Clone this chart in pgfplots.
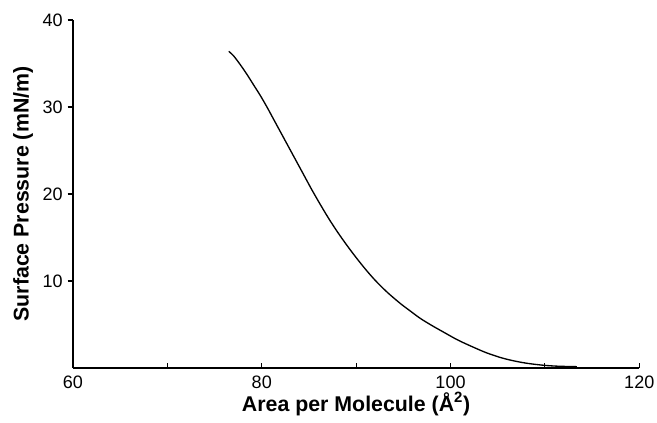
\documentclass[border=0pt]{standalone}
\usepackage{pgfplots}
\pgfplotsset{compat=1.18}
\usepackage{fontspec}
\setmainfont{Liberation Sans}
\begin{document}
\begin{tikzpicture}
\useasboundingbox (-54.75pt,-41.25pt) rectangle (438pt,276pt);
\begin{axis}[
  at={(0,0)}, anchor=south west,
  scale only axis,
  width=424.7pt, height=261pt,
  xmin=60, xmax=120, ymin=0, ymax=40,
  axis x line*=bottom, axis y line*=left,
  axis line style={line width=1pt},
  xtick={60,70,80,90,100,110,120},
  xticklabels={60,,80,,100,,120},
  ytick={10,20,30,40},
  xtick align=inside,
  ytick align=outside,
  major tick length=4pt,
  tick style={line width=0.8pt, black},
  /pgf/number format/assume math mode=true,
  tick label style={font=\fontsize{13.5}{16}\selectfont, inner sep=0pt},
  xticklabel style={anchor=base, yshift=-15.5pt},
  yticklabel style={anchor=east, xshift=-3.5pt},
  label style={font=\bfseries\fontsize{16}{19}\selectfont},
  xlabel={Area per Molecule (Å\textsuperscript{2})},
  ylabel={Surface Pressure (mN/m)},
  xlabel style={at={(axis description cs:0.5,0)}, anchor=base, yshift=-32.5pt},
  ylabel style={at={(axis description cs:0,0.5)}, anchor=center, yshift=37.5pt},
  clip=false,
]
\addplot[black, line width=1pt, smooth] coordinates {
(76.5,36.4) (77.0,35.9) (77.7,34.9) (78.4,33.8) (79.1,32.6) (79.8,31.4)
(80.5,30.1) (81.2,28.7) (81.9,27.3) (82.7,25.7) (83.7,23.7) (84.4,22.3)
(85.3,20.5) (86.2,18.8) (87.2,17.0) (88.3,15.2) (89.5,13.4) (90.8,11.6)
(92.0,10.1) (93.3,8.7) (94.7,7.4) (95.8,6.5) (96.8,5.7) (98.0,4.9)
(99.3,4.1) (100.8,3.2) (102.4,2.4) (103.8,1.75) (105.3,1.2) (106.3,0.92)
(107.4,0.67) (108.5,0.48) (110.0,0.3) (111.5,0.2) (113.4,0.15)
};
\end{axis}
\end{tikzpicture}
\end{document}
